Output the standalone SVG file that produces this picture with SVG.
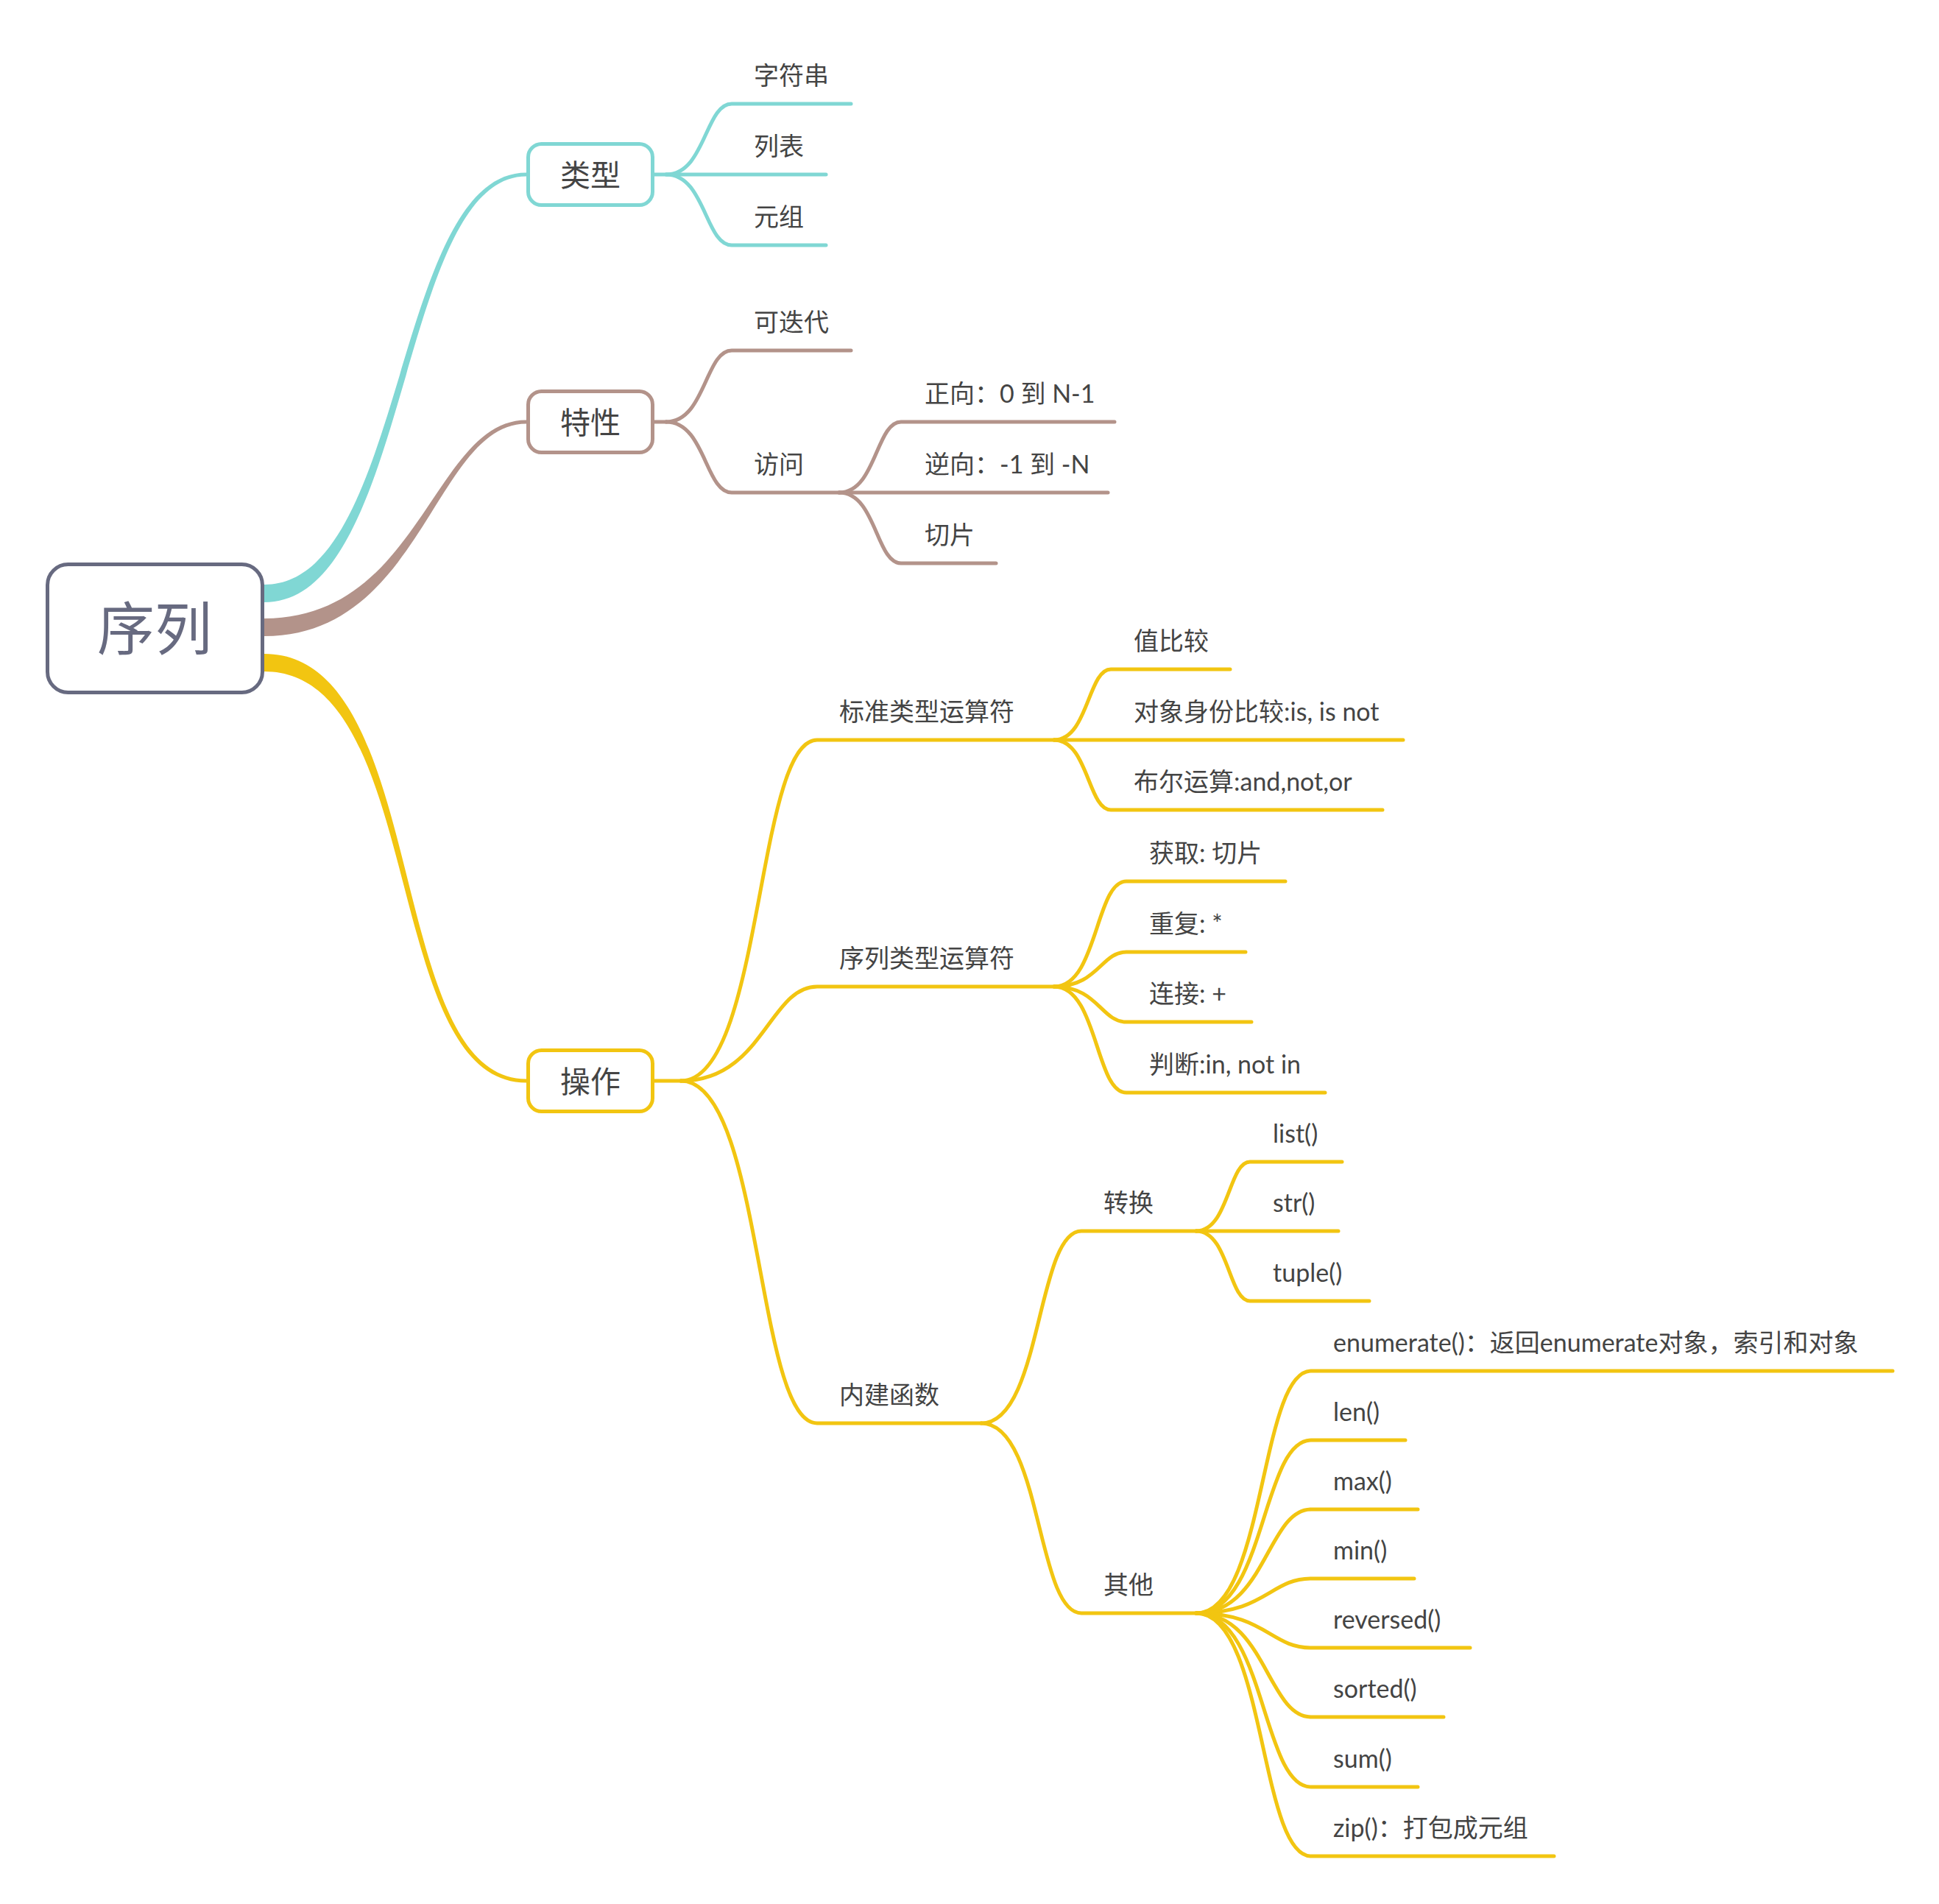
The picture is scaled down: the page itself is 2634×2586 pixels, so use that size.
<svg xmlns="http://www.w3.org/2000/svg" width="2634" height="2586" viewBox="0 0 2634 2586">
<style>
.c{fill:none;stroke-width:5;stroke-linecap:round;stroke-linejoin:round}
.cy{stroke:#80d7d4}.br{stroke:#b3938a}.ye{stroke:#f2c511}
.t{font-family:Lato,"Noto Sans CJK SC",sans-serif;font-size:34px;fill:#444}
.t1{font-family:"Noto Sans CJK SC",sans-serif;font-size:41px;fill:#444;text-anchor:middle}
.box{fill:#fff;stroke-width:5}
</style>
<rect width="2634" height="2586" fill="#fff"/>
<g id="connectors">
  <path fill="#80d7d4" d="M340,794 L359,794 C552,794 534,234.5 715,234.5 L715,239.5 C540,239.5 558,818 359,818 L340,818 Z"/>
  <path fill="#b3938a" d="M340,840 L359,840 C572,840 589,570.5 715,570.5 L715,575.5 C591,575.5 574,864 359,864 L340,864 Z"/>
  <path fill="#f2c511" d="M340,888 L359,888 C585.5,888 521.5,1465.5 715,1465.5 L715,1470.5 C516.5,1470.5 580.5,912 359,912 L340,912 Z"/>
  <g class="c cy">
    <path d="M905,237 C958,237 958,141 994,141 L1156,141"/>
    <path d="M889,237 L1122,237"/>
    <path d="M905,237 C958,237 958,333 994,333 L1122,333"/>
  </g>
  <g class="c br">
    <path d="M889,573 L905,573"/>
    <path d="M905,573 C958,573 958,476 994,476 L1156,476"/>
    <path d="M905,573 C958,573 958,669 994,669 L1140,669"/>
    <path d="M1140,669 C1190,669 1190,573 1224,573 L1514,573"/>
    <path d="M1140,669 L1505,669"/>
    <path d="M1140,669 C1190,669 1190,765 1224,765 L1353,765"/>
  </g>
  <g class="c ye">
    <path d="M889,1468 L925,1468"/>
    <path d="M925,1468 C1036,1468 1027,1005 1110,1005 L1432,1005"/>
    <path d="M925,1468 C1036,1468 1045,1340 1110,1340 L1432,1340"/>
    <path d="M925,1468 C1036,1468 1027,1933 1110,1933 L1333,1933"/>
    <path d="M1432,1005 C1478,1005 1478,909 1509,909 L1671,909"/>
    <path d="M1432,1005 L1906,1005"/>
    <path d="M1432,1005 C1478,1005 1478,1100 1509,1100 L1878,1100"/>
    <path d="M1432,1340 C1491,1340 1488,1197 1530,1197 L1746,1197"/>
    <path d="M1432,1340 C1491,1340 1496,1293 1530,1293 L1692,1293"/>
    <path d="M1432,1340 C1491,1340 1496,1388 1530,1388 L1700,1388"/>
    <path d="M1432,1340 C1491,1340 1488,1484 1530,1484 L1800,1484"/>
    <path d="M1333,1933 C1415,1933 1408,1672 1469,1672 L1625,1672"/>
    <path d="M1333,1933 C1415,1933 1408,2191 1469,2191 L1625,2191"/>
    <path d="M1625,1672 C1669,1672 1669,1578 1698,1578 L1823,1578"/>
    <path d="M1625,1672 L1818,1672"/>
    <path d="M1625,1672 C1669,1672 1669,1767 1698,1767 L1860,1767"/>
    <path d="M1625,2191 C1719,2191 1711,1862 1781,1862 L2571,1862"/>
    <path d="M1625,2191 C1719,2191 1714,1956 1781,1956 L1909,1956"/>
    <path d="M1625,2191 C1719,2191 1722,2050 1781,2050 L1926,2050"/>
    <path d="M1625,2191 C1719,2191 1726,2144 1781,2144 L1921,2144"/>
    <path d="M1625,2191 C1719,2191 1726,2238 1781,2238 L1997,2238"/>
    <path d="M1625,2191 C1719,2191 1722,2332 1781,2332 L1961,2332"/>
    <path d="M1625,2191 C1719,2191 1714,2427 1781,2427 L1926,2427"/>
    <path d="M1625,2191 C1719,2191 1711,2521 1781,2521 L2111,2521"/>
  </g>
</g>
<g id="node-root">
  <rect class="box" x="64.5" y="766.5" width="292" height="174" rx="28" stroke="#676a80"/>
  <text x="210" y="883" font-family="'Noto Sans CJK SC',sans-serif" font-size="78" fill="#676a80" text-anchor="middle">序列</text>
</g>
<g id="node-leixing">
  <rect class="box" x="717.5" y="195.5" width="169" height="83" rx="18" stroke="#80d7d4"/>
  <text class="t1" x="802" y="253">类型</text>
</g>
<g id="node-texing">
  <rect class="box" x="717.5" y="531.5" width="169" height="83" rx="18" stroke="#b3938a"/>
  <text class="t1" x="802" y="589">特性</text>
</g>
<g id="node-caozuo">
  <rect class="box" x="717.5" y="1426.5" width="169" height="83" rx="18" stroke="#f2c511"/>
  <text class="t1" x="802" y="1484">操作</text>
</g>
<g id="node-zifuchuan"><text class="t" x="1024" y="115">字符串</text></g>
<g id="node-liebiao"><text class="t" x="1024" y="211">列表</text></g>
<g id="node-yuanzu"><text class="t" x="1024" y="307">元组</text></g>
<g id="node-kediedai"><text class="t" x="1024" y="450">可迭代</text></g>
<g id="node-fangwen"><text class="t" x="1024" y="643">访问</text></g>
<g id="node-zhengxiang"><text class="t" x="1256" y="547">正向：0 到 N-1</text></g>
<g id="node-nixiang"><text class="t" x="1256" y="643">逆向：-1 到 -N</text></g>
<g id="node-qiepian"><text class="t" x="1256" y="739">切片</text></g>
<g id="node-biaozhun"><text class="t" x="1140" y="979">标准类型运算符</text></g>
<g id="node-xulie"><text class="t" x="1140" y="1314">序列类型运算符</text></g>
<g id="node-neijian"><text class="t" x="1140" y="1907">内建函数</text></g>
<g id="node-zhibijiao"><text class="t" x="1540" y="883">值比较</text></g>
<g id="node-duixiang"><text class="t" x="1540" y="979">对象身份比较:is, is not</text></g>
<g id="node-buer"><text class="t" x="1540" y="1074">布尔运算:and,not,or</text></g>
<g id="node-huoqu"><text class="t" x="1561" y="1171">获取: 切片</text></g>
<g id="node-chongfu"><text class="t" x="1561" y="1267">重复: *</text></g>
<g id="node-lianjie"><text class="t" x="1561" y="1362">连接: +</text></g>
<g id="node-panduan"><text class="t" x="1561" y="1458">判断:in, not in</text></g>
<g id="node-zhuanhuan"><text class="t" x="1499" y="1646">转换</text></g>
<g id="node-qita"><text class="t" x="1499" y="2165">其他</text></g>
<g id="node-list"><text class="t" x="1729" y="1552">list()</text></g>
<g id="node-str"><text class="t" x="1729" y="1646">str()</text></g>
<g id="node-tuple"><text class="t" x="1729" y="1741">tuple()</text></g>
<g id="node-enumerate"><text class="t" x="1811" y="1836">enumerate()：返回enumerate对象，索引和对象</text></g>
<g id="node-len"><text class="t" x="1811" y="1930">len()</text></g>
<g id="node-max"><text class="t" x="1811" y="2024">max()</text></g>
<g id="node-min"><text class="t" x="1811" y="2118">min()</text></g>
<g id="node-reversed"><text class="t" x="1811" y="2212">reversed()</text></g>
<g id="node-sorted"><text class="t" x="1811" y="2306">sorted()</text></g>
<g id="node-sum"><text class="t" x="1811" y="2401">sum()</text></g>
<g id="node-zip"><text class="t" x="1811" y="2495">zip()：打包成元组</text></g>
</svg>
